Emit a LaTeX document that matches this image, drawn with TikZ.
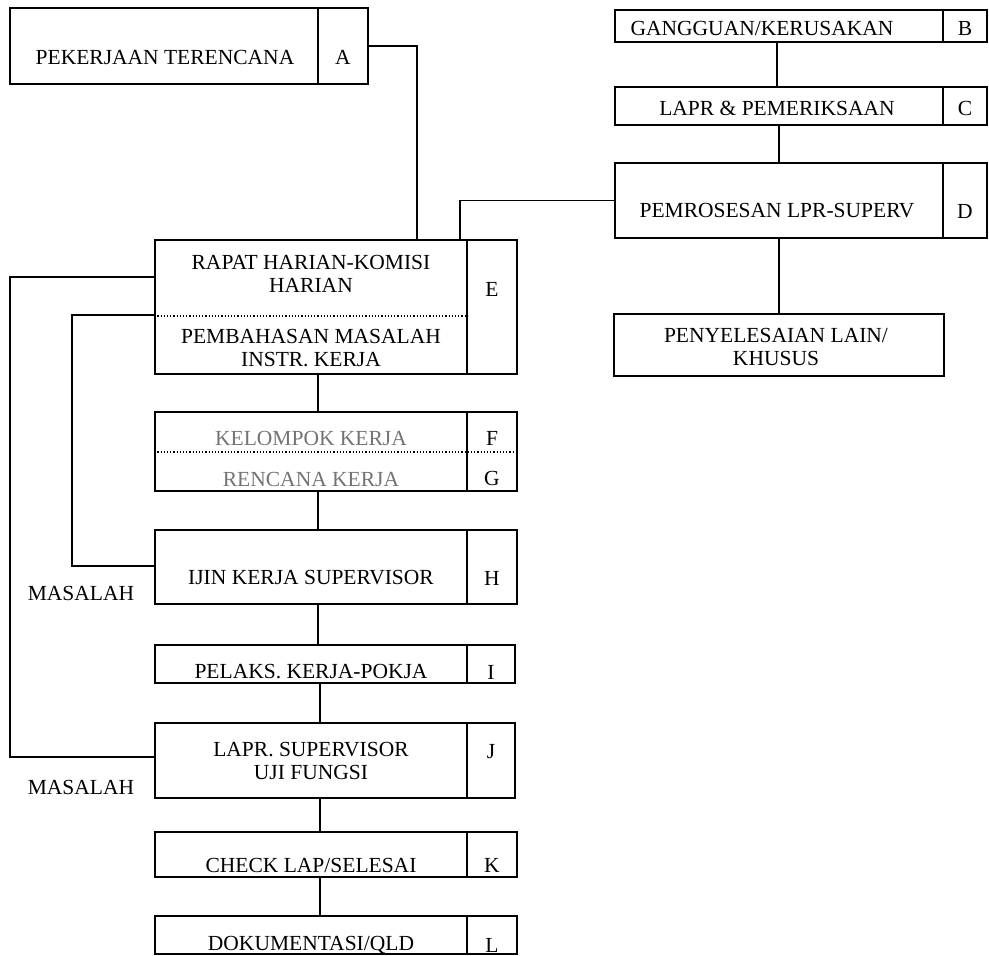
\documentclass[tikz,border=0pt]{standalone}
\usepackage{fontspec}
\setmainfont{Liberation Serif}
\begin{document}
\begin{tikzpicture}[x=1pt,y=-1pt,
  bx/.style={draw, line width=1.6pt, inner sep=0pt},
  ln/.style={line width=1.3pt},
  tx/.style={font=\fontsize{21.5}{22.5}\selectfont, align=center, inner sep=0pt},
  fade/.style={tx, text=black!55},
  dotln/.style={line width=1.2pt, dotted}]
\useasboundingbox (0,0) rectangle (989,956);

% A
\node[bx, minimum width=308pt, minimum height=76pt] (A) at (164,46) {};
\node[bx, minimum width=50pt, minimum height=76pt] (Al) at (343,46) {};
\node[tx] (At) at (165,57) {PEKERJAAN TERENCANA};
\node[tx] (Alt) at (343,57) {A};

% B
\node[bx, minimum width=328pt, minimum height=32pt] (B) at (779,26) {};
\node[bx, minimum width=44pt, minimum height=32pt] (Bl) at (965,26) {};
\node[tx] (Bt) at (762,28) {GANGGUAN/KERUSAKAN};
\node[tx] (Blt) at (965,28) {B};

% C
\node[bx, minimum width=328pt, minimum height=38pt] (C) at (779,106) {};
\node[bx, minimum width=44pt, minimum height=38pt] (Cl) at (965,106) {};
\node[tx] (Ct) at (777,108) {LAPR \& PEMERIKSAAN};
\node[tx] (Clt) at (965,108) {C};

% D
\node[bx, minimum width=328pt, minimum height=75pt] (D) at (779,200.5) {};
\node[bx, minimum width=44pt, minimum height=75pt] (Dl) at (965,200.5) {};
\node[tx] (Dt) at (777,211) {PEMROSESAN LPR-SUPERV};
\node[tx] (Dlt) at (965,211) {D};

% P
\node[bx, minimum width=330pt, minimum height=62pt] (P) at (779,345) {};
\node[tx] (Pt) at (776,347) {PENYELESAIAN LAIN/\\KHUSUS};

% E
\node[bx, minimum width=312pt, minimum height=134pt] (E) at (311,307) {};
\node[bx, minimum width=50pt, minimum height=134pt] (El) at (492,307) {};
\node[tx] (Et1) at (311,274) {RAPAT HARIAN-KOMISI\\HARIAN};
\node[tx] (Et2) at (311,348) {PEMBAHASAN MASALAH\\INSTR. KERJA};
\node[tx] (Elt) at (492,289) {E};
\draw[dotln] (E.west |- 0,316) -- (E.east |- 0,316);

% F/G
\node[bx, minimum width=312pt, minimum height=79pt] (FG) at (311,451.5) {};
\node[bx, minimum width=50pt, minimum height=79pt] (FGl) at (492,451.5) {};
\node[fade] (Ft) at (311,438) {KELOMPOK KERJA};
\node[fade] (Gt) at (311,479) {RENCANA KERJA};
\node[tx] (Flt) at (492,438) {F};
\node[tx] (Glt) at (492,478) {G};
\draw[dotln] (FG.west |- 0,452) -- (FGl.east |- 0,452);

% H
\node[bx, minimum width=312pt, minimum height=74pt] (H) at (311,567) {};
\node[bx, minimum width=50pt, minimum height=74pt] (Hl) at (492,567) {};
\node[tx] (Ht) at (311,578) {IJIN KERJA SUPERVISOR};
\node[tx] (Hlt) at (492,578) {H};

% I
\node[bx, minimum width=312pt, minimum height=38pt] (I) at (311,664) {};
\node[bx, minimum width=48pt, minimum height=38pt] (Il) at (491,664) {};
\node[tx] (It) at (311,672) {PELAKS. KERJA-POKJA};
\node[tx] (Ilt) at (491,672) {I};

% J
\node[bx, minimum width=312pt, minimum height=75pt] (J) at (311,760.5) {};
\node[bx, minimum width=48pt, minimum height=75pt] (Jl) at (491,760.5) {};
\node[tx] (Jt) at (311,761) {LAPR. SUPERVISOR\\UJI FUNGSI};
\node[tx] (Jlt) at (491,752) {J};

% K
\node[bx, minimum width=312pt, minimum height=45pt] (K) at (311,854.5) {};
\node[bx, minimum width=50pt, minimum height=45pt] (Kl) at (492,854.5) {};
\node[tx] (Kt) at (311,865) {CHECK LAP/SELESAI};
\node[tx] (Klt) at (492,865) {K};

% L
\node[bx, minimum width=312pt, minimum height=38pt] (L) at (311,935) {};
\node[bx, minimum width=50pt, minimum height=38pt] (Ll) at (492,935) {};
\node[tx] (Lt) at (311,945) {DOKUMENTASI/QLD};
\node[tx] (Llt) at (492,945) {L};

% MASALAH labels
\node[tx] (M1) at (81,593) {MASALAH};
\node[tx] (M2) at (81,787) {MASALAH};

% connectors
\draw[ln] (Al.east) -| (417,0 |- E.north);
\draw[ln] (777,0 |- B.south) -- (777,0 |- C.north);
\draw[ln] (779,0 |- C.south) -- (779,0 |- D.north);
\draw[ln] (D.west) -| (460,0 |- E.north);
\draw[ln] (779,0 |- D.south) -- (779,0 |- P.north);
\draw[ln] (318,0 |- E.south) -- (318,0 |- FG.north);
\draw[ln] (318,0 |- FG.south) -- (318,0 |- H.north);
\draw[ln] (318,0 |- H.south) -- (318,0 |- I.north);
\draw[ln] (320,0 |- I.south) -- (320,0 |- J.north);
\draw[ln] (320,0 |- J.south) -- (320,0 |- K.north);
\draw[ln] (320,0 |- K.south) -- (320,0 |- L.north);
\draw[ln] (E.west |- 0,277) -| (10,757) -- (J.west |- 0,757);
\draw[ln] (E.west |- 0,315) -| (72,566) -- (H.west |- 0,566);
\end{tikzpicture}
\end{document}
